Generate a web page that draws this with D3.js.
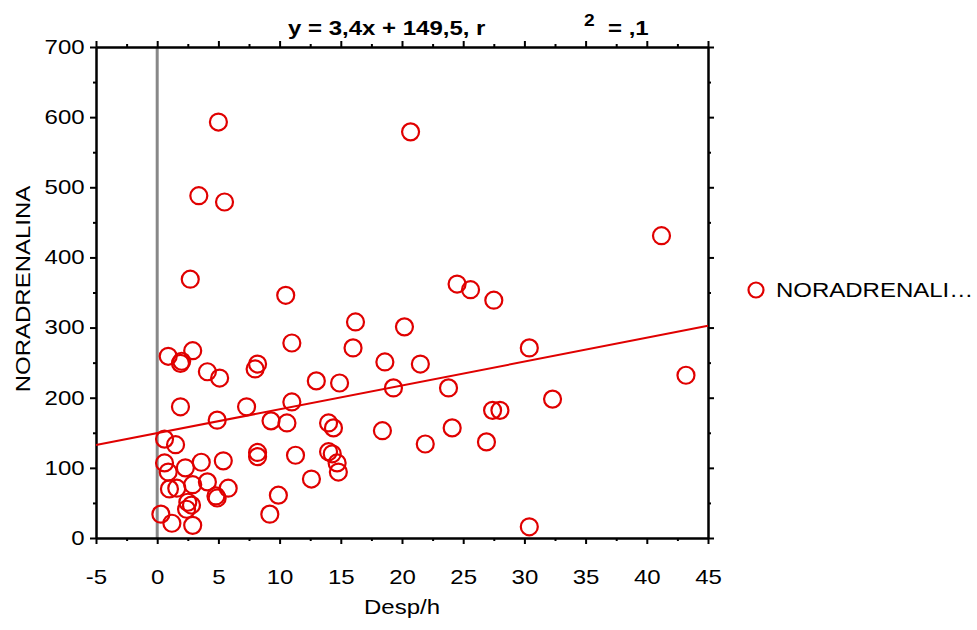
<!DOCTYPE html>
<html>
<head>
    <meta charset="utf-8">
    <script src="https://d3js.org/d3.v7.min.js"></script>
    <style>
        body { margin: 0; background: #fff; }
        text { font-family: "Liberation Sans", Arial, sans-serif; }
    </style>
</head>
<body>
    <div id="chart" style="width: 977px; height: 630px;"></div>
    <script>
        // values
        var despH = [5.0, 20.7, 3.4, 5.5, 41.2, 2.7, 24.5, 25.6, 27.5, 10.5,
            16.2, 20.2, 11.0, 30.4, 16.0, 2.9, 0.9, 1.9, 2.0, 18.6,
            21.5, 8.2, 8.0, 4.1, 5.1, 13.0, 14.9, 43.2, 19.3, 23.8,
            7.3, 11.0, 1.9, 32.3, 27.4, 28.0, 9.3, 4.9, 14.0, 10.6,
            14.4, 18.4, 24.1, 26.9, 21.9, 0.6, 1.5, 8.2, 8.2, 14.0,
            14.3, 0.6, 0.9, 2.3, 3.6, 5.4, 14.7, 14.8, 11.3, 1.0,
            1.6, 2.9, 4.1, 5.8, 4.8, 4.9, 12.6, 9.9, 2.5, 2.8,
            2.4, 9.2, 0.3, 1.2, 2.9, 30.4];
        var noradrenalina = [593, 579, 488, 479, 431, 369, 362, 354, 339, 346,
            308, 301, 278, 271, 271, 267, 259, 249, 252, 251,
            248, 248, 241, 237, 228, 224, 221, 232, 214, 214,
            187, 194, 187, 198, 182, 182, 167, 168, 164, 164,
            157, 153, 157, 137, 134, 141, 133, 122, 116, 123,
            120, 107, 94, 100, 108, 110, 107, 94, 118, 70,
            71, 76, 80, 71, 60, 57, 84, 61, 51, 47,
            41, 34, 34, 21, 18, 16];
        var xTicks = [-5, 0, 5, 10, 15, 20, 25, 30, 35, 40, 45];
        var yTicks = [0, 100, 200, 300, 400, 500, 600, 700];
        var slope = 3.4, intercept = 149.5;
        var seriesName = "NORADRENALINA";

        var width = 977, height = 630;
        var margin = { left: 96, right: 269, top: 47, bottom: 92 };
        var red = "#e00000";
        var stretch = 1.2; // the source text is drawn a bit wide

        var svg = d3.select("#chart").append("svg")
            .attr("width", width)
            .attr("height", height);

        var x = d3.scaleLinear().domain([-5, 45]).range([margin.left, width - margin.right]);
        var y = d3.scaleLinear().domain([0, 700]).range([height - margin.bottom, margin.top]);

        var minorX = d3.range(-5, 45.01, 2.5).filter(function (v) { return v % 5 !== 0; });
        var minorY = d3.range(0, 700.01, 50).filter(function (v) { return v % 100 !== 0; });
        var plain = function (d) { return String(d); }; // hyphen minus, not unicode minus

        // zero line
        svg.append("line")
            .attr("x1", x(0)).attr("x2", x(0))
            .attr("y1", y(700)).attr("y2", y(0))
            .attr("stroke", "#888").attr("stroke-width", 3);

        // axes (major + minor ticks on all four sides)
        function addAxis(axis, transform, labels) {
            var g = svg.append("g").attr("transform", transform).call(axis);
            g.selectAll("path").attr("stroke", "#000").attr("stroke-width", 2);
            g.selectAll("line").attr("stroke", "#000").attr("stroke-width", 2);
            if (!labels) g.selectAll("text").remove();
            else g.selectAll("text").attr("font-size", 20).attr("fill", "#000")
                .attr("font-family", "'Liberation Sans', Arial, sans-serif")
                .attr("transform", "scale(" + stretch + ",1)");
            return g;
        }
        addAxis(d3.axisBottom(x).tickValues(xTicks).tickFormat(plain).tickSize(6).tickPadding(26).tickSizeOuter(0),
            "translate(0," + y(0) + ")", true);
        addAxis(d3.axisBottom(x).tickValues(minorX).tickSize(3).tickSizeOuter(0), "translate(0," + y(0) + ")", false);
        addAxis(d3.axisTop(x).tickValues(xTicks).tickSize(6).tickSizeOuter(0), "translate(0," + y(700) + ")", false);
        addAxis(d3.axisTop(x).tickValues(minorX).tickSize(3).tickSizeOuter(0), "translate(0," + y(700) + ")", false);
        addAxis(d3.axisLeft(y).tickValues(yTicks).tickFormat(plain).tickSize(6).tickPadding(3.5).tickSizeOuter(0),
            "translate(" + x(-5) + ",0)", true);
        addAxis(d3.axisLeft(y).tickValues(minorY).tickSize(3).tickSizeOuter(0), "translate(" + x(-5) + ",0)", false);
        addAxis(d3.axisRight(y).tickValues(yTicks).tickSize(6).tickSizeOuter(0), "translate(" + x(45) + ",0)", false);
        addAxis(d3.axisRight(y).tickValues(minorY).tickSize(3).tickSizeOuter(0), "translate(" + x(45) + ",0)", false);

        // regression line
        svg.append("line")
            .attr("x1", x(-5)).attr("y1", y(slope * -5 + intercept))
            .attr("x2", x(45)).attr("y2", y(slope * 45 + intercept))
            .attr("stroke", red).attr("stroke-width", 2);

        // points
        svg.append("g")
            .selectAll("circle")
            .data(despH)
            .join("circle")
            .attr("cx", function (d) { return x(d); })
            .attr("cy", function (d, i) { return y(noradrenalina[i]); })
            .attr("r", 8.5)
            .attr("fill", "none")
            .attr("stroke", red)
            .attr("stroke-width", 2.2);

        // text helper: place, rotate, then widen
        function label(px, py, str, size, opts) {
            opts = opts || {};
            var t = "translate(" + px + "," + py + ")" +
                (opts.rotate ? " rotate(" + opts.rotate + ")" : "") +
                " scale(" + stretch + ",1)";
            return svg.append("text")
                .attr("transform", t)
                .attr("font-size", size)
                .attr("font-weight", opts.bold ? "bold" : null)
                .attr("text-anchor", opts.anchor || "start")
                .text(str);
        }

        // title
        label(288, 35, "y = 3,4x + 149,5, r", 20, { bold: true });
        label(584, 26, "2", 16, { bold: true });
        label(608, 35, "= ,1", 20, { bold: true });

        // axis titles
        label(x(20), 614, "Desp/h", 20, { anchor: "middle" });
        label(30, y(355), seriesName, 20, { anchor: "middle", rotate: -90 });

        // legend
        svg.append("circle").attr("cx", 756).attr("cy", 290).attr("r", 7.5)
            .attr("fill", "none").attr("stroke", red).attr("stroke-width", 2.2);
        label(776, 297, seriesName.slice(0, 11) + "\u2026", 20);
    </script>
</body>
</html>
